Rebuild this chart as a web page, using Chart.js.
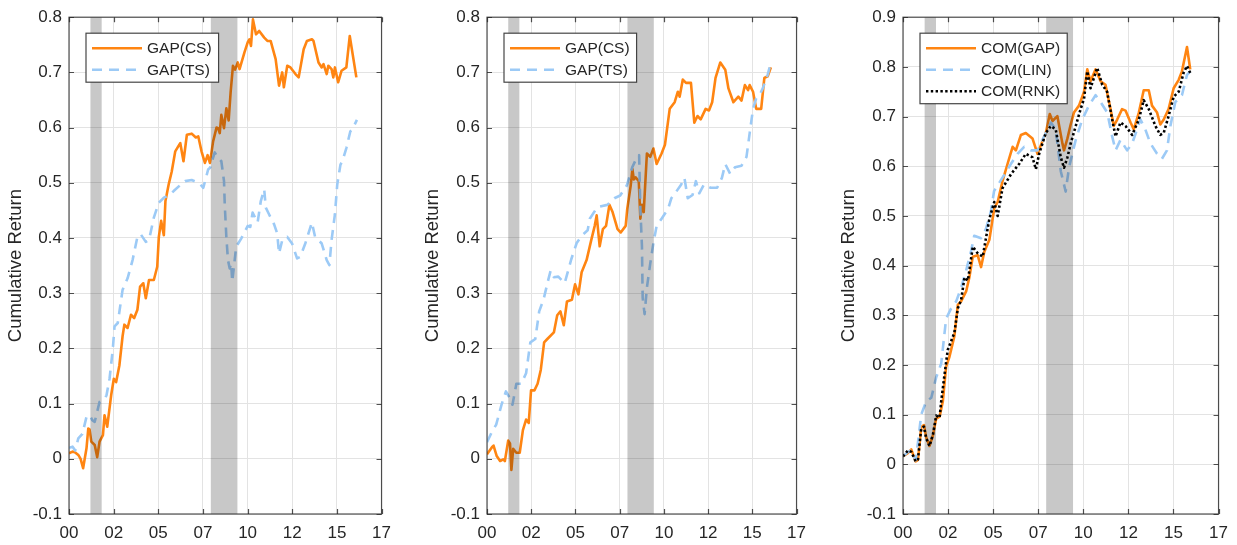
<!DOCTYPE html>
<html>
<head>
<meta charset="utf-8">
<script src="https://cdn.jsdelivr.net/npm/chart.js@4.4.1/dist/chart.umd.min.js"></script>
<style>
  html, body { margin: 0; padding: 0; background: #fff; }
  #wrap { position: relative; width: 1237px; height: 545px; overflow: hidden; background: #fff; }
  canvas { position: absolute; top: 0; }
</style>
</head>
<body>
<div id="wrap">
  <canvas id="p1" width="400" height="545" style="left:0px"></canvas>
  <canvas id="p2" width="400" height="545" style="left:415px"></canvas>
  <canvas id="p3" width="407" height="545" style="left:830px"></canvas>
</div>
<script>
// ---- axis ticks ----
const xTickYears  = [2000, 2002.5, 2005, 2007.5, 2010, 2012.5, 2015, 2017.5];
const xTickLabels = ['00', '02', '05', '07', '10', '12', '15', '17'];
const yTicksGap   = [-0.1, 0, 0.1, 0.2, 0.3, 0.4, 0.5, 0.6, 0.7, 0.8];
const yLabelsGap  = ['-0.1', '0', '0.1', '0.2', '0.3', '0.4', '0.5', '0.6', '0.7', '0.8'];
const yTicksCom   = [-0.1, 0, 0.1, 0.2, 0.3, 0.4, 0.5, 0.6, 0.7, 0.8, 0.9];
const yLabelsCom  = ['-0.1', '0', '0.1', '0.2', '0.3', '0.4', '0.5', '0.6', '0.7', '0.8', '0.9'];

// ---- NBER recession periods (decimal years) ----
const recessions = [[2001.20, 2001.83], [2007.94, 2009.43]];

// ---- series: [decimal year, cumulative return] ----
const gapCsLeft = [[2000.00,0.010],[2000.20,0.013],[2000.33,0.012],[2000.52,0.007],[2000.65,0.000],[2000.79,-0.017],[2000.98,0.019],[2001.08,0.055],[2001.15,0.053],[2001.25,0.031],[2001.44,0.025],[2001.58,0.003],[2001.71,0.031],[2001.90,0.043],[2001.99,0.079],[2002.14,0.058],[2002.36,0.115],[2002.51,0.145],[2002.64,0.139],[2002.82,0.169],[2003.00,0.222],[2003.10,0.243],[2003.28,0.237],[2003.47,0.261],[2003.65,0.255],[2003.83,0.270],[2003.98,0.312],[2004.16,0.318],[2004.30,0.291],[2004.48,0.324],[2004.75,0.324],[2004.94,0.348],[2005.03,0.402],[2005.16,0.431],[2005.31,0.405],[2005.40,0.467],[2005.58,0.497],[2005.75,0.520],[2005.95,0.557],[2006.10,0.565],[2006.23,0.572],[2006.41,0.539],[2006.60,0.587],[2006.87,0.589],[2007.10,0.582],[2007.24,0.584],[2007.42,0.557],[2007.61,0.536],[2007.76,0.550],[2007.89,0.536],[2008.07,0.575],[2008.26,0.600],[2008.35,0.599],[2008.44,0.590],[2008.53,0.623],[2008.68,0.599],[2008.81,0.635],[2008.94,0.613],[2009.05,0.664],[2009.18,0.712],[2009.30,0.705],[2009.45,0.718],[2009.55,0.706],[2009.82,0.736],[2010.01,0.755],[2010.10,0.760],[2010.19,0.748],[2010.30,0.796],[2010.47,0.769],[2010.65,0.775],[2010.93,0.763],[2011.11,0.757],[2011.29,0.757],[2011.57,0.724],[2011.76,0.676],[2011.94,0.700],[2012.03,0.673],[2012.22,0.712],[2012.40,0.709],[2012.68,0.697],[2012.86,0.691],[2013.14,0.742],[2013.32,0.757],[2013.60,0.760],[2013.69,0.757],[2013.97,0.718],[2014.15,0.709],[2014.25,0.715],[2014.43,0.697],[2014.52,0.712],[2014.70,0.706],[2014.80,0.691],[2014.89,0.709],[2015.07,0.682],[2015.26,0.703],[2015.53,0.709],[2015.72,0.766],[2016.09,0.691]];

const gapTsLeft = [[2000.00,0.020],[2000.20,0.022],[2000.35,0.015],[2000.52,0.037],[2000.75,0.045],[2000.98,0.076],[2001.16,0.079],[2001.30,0.070],[2001.44,0.067],[2001.71,0.103],[2001.99,0.109],[2002.10,0.115],[2002.27,0.145],[2002.45,0.198],[2002.55,0.240],[2002.73,0.246],[2003.00,0.306],[2003.28,0.327],[2003.56,0.360],[2003.83,0.402],[2004.01,0.407],[2004.30,0.393],[2004.48,0.396],[2004.75,0.437],[2005.03,0.464],[2005.31,0.473],[2005.68,0.479],[2005.86,0.485],[2006.20,0.495],[2006.50,0.503],[2006.87,0.505],[2007.10,0.502],[2007.33,0.498],[2007.52,0.491],[2007.79,0.524],[2007.89,0.527],[2008.16,0.555],[2008.35,0.545],[2008.53,0.539],[2008.68,0.503],[2008.72,0.461],[2008.81,0.402],[2008.90,0.360],[2009.00,0.345],[2009.08,0.354],[2009.14,0.321],[2009.36,0.384],[2009.64,0.399],[2010.01,0.422],[2010.15,0.420],[2010.28,0.446],[2010.56,0.428],[2010.74,0.467],[2010.93,0.488],[2011.02,0.455],[2011.20,0.443],[2011.48,0.425],[2011.66,0.408],[2011.76,0.372],[2011.94,0.396],[2012.22,0.402],[2012.49,0.390],[2012.77,0.363],[2012.95,0.366],[2013.23,0.390],[2013.60,0.428],[2013.78,0.402],[2013.97,0.396],[2014.15,0.390],[2014.43,0.360],[2014.58,0.351],[2014.70,0.396],[2014.89,0.443],[2015.02,0.497],[2015.20,0.533],[2015.31,0.539],[2015.53,0.563],[2015.75,0.593],[2015.90,0.599],[2016.12,0.614]];

const gapCsMid = [[2000.00,0.008],[2000.28,0.021],[2000.37,0.024],[2000.55,0.005],[2000.74,-0.004],[2000.92,-0.001],[2001.01,-0.004],[2001.20,0.033],[2001.30,0.028],[2001.38,-0.020],[2001.48,0.018],[2001.66,0.011],[2001.85,0.011],[2002.03,0.052],[2002.21,0.071],[2002.36,0.065],[2002.49,0.124],[2002.68,0.124],[2002.86,0.136],[2003.04,0.161],[2003.23,0.211],[2003.41,0.217],[2003.78,0.229],[2003.97,0.260],[2004.15,0.267],[2004.34,0.242],[2004.52,0.285],[2004.80,0.288],[2004.98,0.316],[2005.17,0.298],[2005.35,0.338],[2005.63,0.360],[2005.90,0.397],[2006.09,0.422],[2006.20,0.441],[2006.37,0.385],[2006.55,0.416],[2006.73,0.422],[2006.92,0.460],[2007.10,0.447],[2007.38,0.416],[2007.56,0.410],[2007.84,0.422],[2007.93,0.453],[2008.12,0.494],[2008.22,0.525],[2008.30,0.506],[2008.40,0.510],[2008.58,0.503],[2008.67,0.435],[2008.76,0.460],[2008.86,0.447],[2009.04,0.553],[2009.23,0.547],[2009.41,0.562],[2009.59,0.534],[2009.87,0.553],[2010.06,0.569],[2010.33,0.634],[2010.61,0.646],[2010.79,0.665],[2010.89,0.656],[2011.07,0.687],[2011.25,0.681],[2011.53,0.681],[2011.72,0.609],[2011.90,0.621],[2012.08,0.615],[2012.36,0.634],[2012.55,0.631],[2012.73,0.646],[2012.92,0.690],[2013.19,0.718],[2013.47,0.705],[2013.65,0.671],[2013.93,0.646],[2014.21,0.656],[2014.39,0.649],[2014.58,0.677],[2014.76,0.668],[2014.85,0.677],[2015.04,0.665],[2015.22,0.634],[2015.50,0.634],[2015.68,0.690],[2015.87,0.693],[2016.05,0.709]];

const gapTsMid = [[2000.00,0.030],[2000.28,0.049],[2000.52,0.062],[2000.83,0.099],[2001.07,0.122],[2001.29,0.110],[2001.44,0.098],[2001.66,0.136],[2001.94,0.136],[2002.21,0.155],[2002.45,0.211],[2002.73,0.217],[2002.95,0.267],[2003.20,0.289],[2003.47,0.325],[2003.60,0.341],[2003.78,0.329],[2004.03,0.330],[2004.39,0.318],[2004.76,0.361],[2005.07,0.391],[2005.35,0.404],[2005.69,0.414],[2005.81,0.435],[2006.24,0.456],[2006.80,0.460],[2007.20,0.472],[2007.53,0.477],[2007.90,0.495],[2008.21,0.528],[2008.46,0.545],[2008.60,0.550],[2008.67,0.453],[2008.76,0.385],[2008.80,0.292],[2008.91,0.262],[2009.04,0.310],[2009.23,0.354],[2009.41,0.391],[2009.59,0.422],[2009.87,0.435],[2010.24,0.453],[2010.42,0.472],[2010.70,0.484],[2010.98,0.497],[2011.16,0.509],[2011.35,0.472],[2011.62,0.478],[2011.81,0.503],[2012.00,0.481],[2012.27,0.497],[2012.64,0.491],[2013.01,0.491],[2013.28,0.509],[2013.47,0.534],[2013.75,0.516],[2014.02,0.528],[2014.39,0.531],[2014.67,0.547],[2014.85,0.590],[2015.04,0.634],[2015.22,0.653],[2015.41,0.659],[2015.59,0.671],[2015.87,0.696],[2016.05,0.718]];

const comGap = [[2000.00,0.016],[2000.28,0.023],[2000.46,0.030],[2000.70,0.006],[2000.83,0.009],[2001.01,0.075],[2001.16,0.079],[2001.29,0.054],[2001.47,0.037],[2001.66,0.058],[2001.84,0.092],[2002.03,0.096],[2002.21,0.127],[2002.39,0.196],[2002.58,0.217],[2002.85,0.258],[2003.04,0.321],[2003.22,0.328],[2003.50,0.348],[2003.68,0.376],[2003.87,0.418],[2004.14,0.421],[2004.33,0.397],[2004.51,0.428],[2004.79,0.452],[2005.06,0.515],[2005.25,0.528],[2005.52,0.570],[2005.80,0.605],[2006.08,0.639],[2006.26,0.632],[2006.54,0.663],[2006.81,0.667],[2007.18,0.656],[2007.46,0.625],[2007.73,0.650],[2007.92,0.667],[2008.14,0.705],[2008.29,0.691],[2008.56,0.701],[2008.84,0.646],[2008.93,0.632],[2009.12,0.656],[2009.30,0.684],[2009.48,0.708],[2009.76,0.722],[2010.04,0.750],[2010.22,0.795],[2010.40,0.771],[2010.68,0.795],[2010.96,0.771],[2011.23,0.764],[2011.51,0.715],[2011.69,0.681],[2011.88,0.694],[2012.15,0.715],[2012.34,0.712],[2012.62,0.688],[2012.80,0.674],[2013.08,0.708],[2013.35,0.753],[2013.63,0.753],[2013.81,0.722],[2014.09,0.708],[2014.27,0.684],[2014.46,0.694],[2014.73,0.715],[2015.01,0.757],[2015.29,0.774],[2015.47,0.791],[2015.75,0.840],[2015.93,0.795]];

const comLin = [[2000.00,0.016],[2000.28,0.025],[2000.46,0.028],[2000.70,0.008],[2000.83,0.044],[2001.01,0.100],[2001.29,0.127],[2001.57,0.134],[2001.84,0.175],[2002.12,0.203],[2002.39,0.293],[2002.67,0.314],[2002.95,0.328],[2003.22,0.355],[2003.50,0.390],[2003.78,0.430],[2003.95,0.460],[2004.33,0.455],[2004.60,0.474],[2004.88,0.510],[2005.05,0.550],[2005.43,0.572],[2005.71,0.588],[2005.99,0.605],[2006.35,0.625],[2006.72,0.639],[2007.09,0.632],[2007.46,0.632],[2007.83,0.660],[2008.20,0.688],[2008.47,0.674],[2008.75,0.590],[2008.93,0.563],[2009.02,0.549],[2009.21,0.598],[2009.58,0.653],[2009.94,0.694],[2010.31,0.722],[2010.68,0.743],[2010.96,0.729],[2011.33,0.708],[2011.60,0.660],[2011.79,0.632],[2012.06,0.653],[2012.43,0.632],[2012.71,0.646],[2013.17,0.694],[2013.44,0.674],[2013.72,0.646],[2014.09,0.625],[2014.36,0.615],[2014.64,0.632],[2014.83,0.681],[2015.10,0.729],[2015.47,0.743],[2015.75,0.784],[2015.93,0.791]];

const comRnk = [[2000.00,0.016],[2000.28,0.028],[2000.46,0.025],[2000.70,0.006],[2000.83,0.010],[2001.01,0.072],[2001.16,0.076],[2001.29,0.052],[2001.47,0.037],[2001.66,0.060],[2001.84,0.098],[2002.03,0.094],[2002.12,0.127],[2002.30,0.180],[2002.48,0.230],[2002.85,0.265],[2003.04,0.314],[2003.22,0.330],[2003.41,0.376],[2003.60,0.370],[2003.87,0.438],[2004.14,0.425],[2004.42,0.418],[2004.79,0.494],[2005.06,0.528],[2005.25,0.500],[2005.52,0.556],[2005.99,0.584],[2006.45,0.605],[2006.81,0.625],[2007.18,0.618],[2007.37,0.594],[2007.55,0.625],[2007.92,0.667],[2008.20,0.681],[2008.47,0.674],[2008.75,0.618],[2008.93,0.597],[2009.12,0.618],[2009.30,0.646],[2009.58,0.681],[2009.85,0.715],[2010.04,0.736],[2010.22,0.791],[2010.40,0.757],[2010.77,0.798],[2011.05,0.764],[2011.32,0.750],[2011.60,0.694],[2011.79,0.660],[2012.06,0.688],[2012.34,0.681],[2012.71,0.663],[2013.08,0.694],[2013.35,0.733],[2013.63,0.715],[2014.00,0.681],[2014.27,0.663],[2014.46,0.667],[2014.73,0.701],[2015.01,0.740],[2015.29,0.750],[2015.56,0.788],[2015.75,0.802],[2015.93,0.788]];

// ---- styling ----
const FONT = '"Liberation Sans", Arial, Helvetica, sans-serif';
const TEXT = '#262626';
const ORANGE = '#ff8512';
const LIGHTBLUE = '#9ccaf6';

Chart.defaults.font.family = FONT;
Chart.defaults.color = TEXT;

const toPoints = arr => arr.map(([x, y]) => ({ x, y }));

// shaded recession bands, laid over the lines with transparency
const recessionShade = {
  id: 'recessionShade',
  afterDatasetsDraw(chart) {
    const { ctx, chartArea: a, scales: { x } } = chart;
    ctx.save();
    ctx.beginPath();
    ctx.rect(a.left, a.top, a.width, a.height);
    ctx.clip();
    ctx.fillStyle = 'rgba(0,0,0,0.215)';
    recessions.forEach(([s, e]) => {
      const x0 = x.getPixelForValue(s);
      const x1 = x.getPixelForValue(e);
      ctx.fillRect(x0, a.top, x1 - x0, a.height);
    });
    ctx.restore();
  }
};

// axes box with inward tick marks on all four sides
const axesBox = {
  id: 'axesBox',
  afterDraw(chart) {
    const { ctx, chartArea: a, scales: { x, y } } = chart;
    const len = 5;
    ctx.save();
    ctx.strokeStyle = 'rgba(38,38,38,0.8)';
    ctx.lineWidth = 1.2;
    ctx.beginPath();
    x.ticks.forEach(t => {
      const px = Math.round(x.getPixelForValue(t.value)) + 0.5;
      ctx.moveTo(px, a.top); ctx.lineTo(px, a.top + len);
      ctx.moveTo(px, a.bottom); ctx.lineTo(px, a.bottom - len);
    });
    y.ticks.forEach(t => {
      const py = Math.round(y.getPixelForValue(t.value)) + 0.5;
      ctx.moveTo(a.left, py); ctx.lineTo(a.left + len, py);
      ctx.moveTo(a.right, py); ctx.lineTo(a.right - len, py);
    });
    ctx.stroke();
    ctx.strokeRect(a.left, a.top, a.width, a.height);
    ctx.restore();
  }
};

// boxed legend in the upper-left corner of the axes
const boxLegend = {
  id: 'boxLegend',
  afterDraw(chart) {
    const { ctx, chartArea: a } = chart;
    const sets = chart.data.datasets;
    ctx.save();
    ctx.font = '15.5px ' + FONT;
    const textW = Math.max(...sets.map(d => ctx.measureText(d.label).width));
    const left = a.left + 17;
    const top = a.top + 16;
    const rowH = 21.5;
    const w = 61 + textW + 7;
    const h = sets.length * rowH + 6;
    ctx.fillStyle = '#fff';
    ctx.fillRect(left, top, w, h);
    ctx.strokeStyle = 'rgba(38,38,38,0.85)';
    ctx.lineWidth = 1.2;
    ctx.strokeRect(left, top, w, h);
    sets.forEach((d, i) => {
      const yy = top + 15 + i * rowH;
      ctx.beginPath();
      ctx.setLineDash(d.borderDash || []);
      ctx.strokeStyle = d.borderColor;
      ctx.lineWidth = d.borderWidth;
      ctx.moveTo(left + 6, yy);
      ctx.lineTo(left + 56, yy);
      ctx.stroke();
      ctx.setLineDash([]);
      ctx.fillStyle = TEXT;
      ctx.textBaseline = 'middle';
      ctx.textAlign = 'left';
      ctx.fillText(d.label, left + 61, yy + 1);
    });
    ctx.restore();
  }
};

function makePanel(id, datasets, yTicks, yLabels, geo) {
  return new Chart(document.getElementById(id), {
    type: 'line',
    data: { datasets },
    options: {
      responsive: false,
      animation: false,
      events: [],
      layout: { padding: { left: geo.padLeft, right: geo.padRight, top: geo.padTop, bottom: 0 } },
      elements: { point: { radius: 0 }, line: { tension: 0, borderJoinStyle: 'round' } },
      plugins: { legend: { display: false }, tooltip: { enabled: false } },
      scales: {
        x: {
          type: 'linear',
          min: xTickYears[0],
          max: xTickYears[xTickYears.length - 1],
          afterBuildTicks: s => { s.ticks = xTickYears.map(v => ({ value: v })); },
          afterFit: s => { s.height = 31; },
          ticks: {
            autoSkip: false, maxRotation: 0, padding: 9,
            font: { size: 17 }, color: TEXT,
            callback: (v, i) => xTickLabels[i]
          },
          grid: { color: '#e3e3e3', lineWidth: 1, drawTicks: false },
          border: { display: false }
        },
        y: {
          min: yTicks[0],
          max: yTicks[yTicks.length - 1],
          afterBuildTicks: s => { s.ticks = yTicks.map(v => ({ value: v })); },
          afterFit: s => { s.width = geo.axisWidth; },
          ticks: {
            padding: 7, font: { size: 17 }, color: TEXT,
            callback: (v, i) => yLabels[i]
          },
          title: {
            display: true, text: 'Cumulative Return', color: TEXT,
            font: { size: 18.5 }, padding: { top: 0, bottom: 0 }
          },
          grid: { color: '#e3e3e3', lineWidth: 1, drawTicks: false },
          border: { display: false }
        }
      }
    },
    plugins: [recessionShade, axesBox, boxLegend]
  });
}

const solid = (label, data, color, order) => ({
  label, data: toPoints(data), borderColor: color, borderWidth: 2.6,
  borderDash: [], fill: false, order
});
const dashed = (label, data, color, order) => ({
  label, data: toPoints(data), borderColor: color, borderWidth: 2.6,
  borderDash: [10, 7], fill: false, order
});
const dotted = (label, data, color, order) => ({
  label, data: toPoints(data), borderColor: color, borderWidth: 2.6,
  borderDash: [2.4, 2.4], fill: false, order
});

makePanel('p1',
  [solid('GAP(CS)', gapCsLeft, ORANGE, 2), dashed('GAP(TS)', gapTsLeft, LIGHTBLUE, 1)],
  yTicksGap, yLabelsGap,
  { padLeft: 4.4, axisWidth: 64.6, padRight: 14.5, padTop: 11 });

makePanel('p2',
  [solid('GAP(CS)', gapCsMid, ORANGE, 2), dashed('GAP(TS)', gapTsMid, LIGHTBLUE, 1)],
  yTicksGap, yLabelsGap,
  { padLeft: 6.4, axisWidth: 65.6, padRight: 12.3, padTop: 11 });

makePanel('p3',
  [solid('COM(GAP)', comGap, ORANGE, 3), dashed('COM(LIN)', comLin, LIGHTBLUE, 2), dotted('COM(RNK)', comRnk, '#000000', 1)],
  yTicksCom, yLabelsCom,
  { padLeft: 7.9, axisWidth: 65.1, padRight: 17.6, padTop: 10.6 });
</script>
</body>
</html>
